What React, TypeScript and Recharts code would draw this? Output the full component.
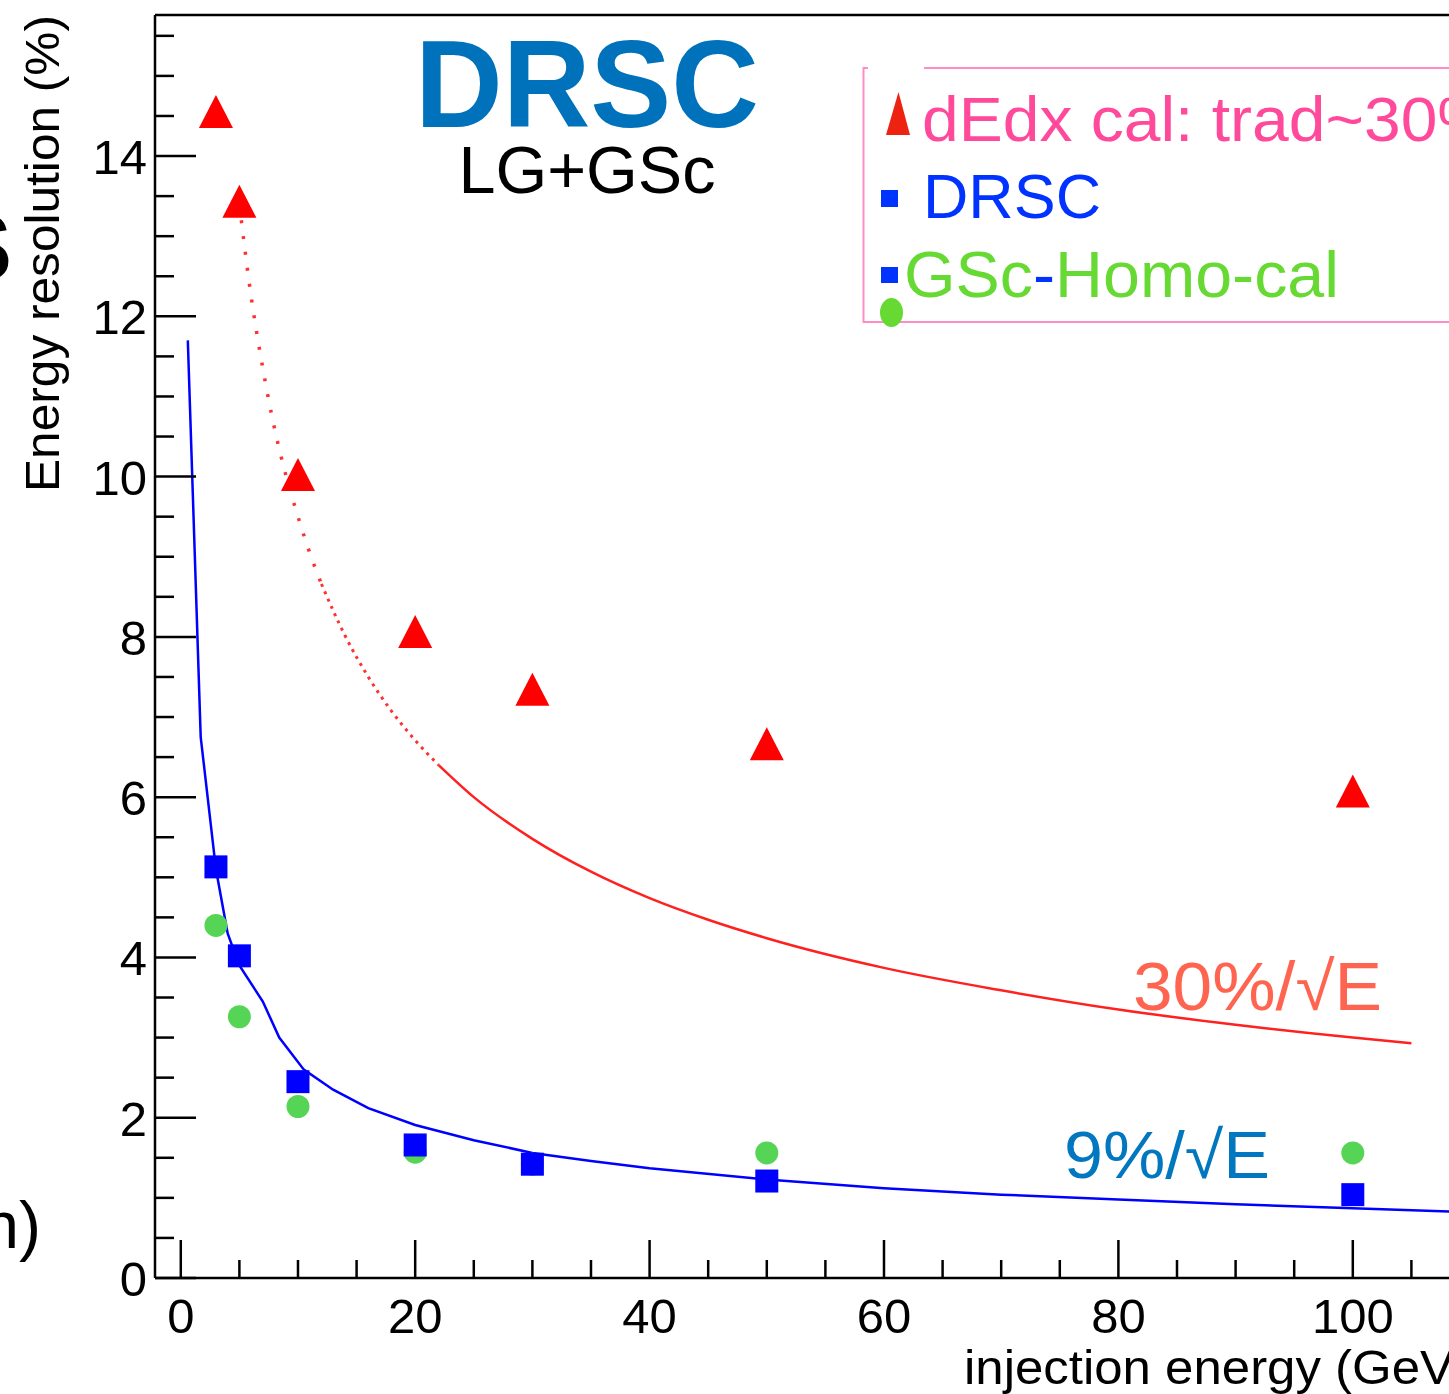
import React from "react";
import { ComposedChart, Line, Scatter, XAxis, YAxis, ReferenceLine } from "recharts";

// beam energies (GeV) and measured resolutions (%)
const energies = [3, 5, 10, 20, 30, 50, 100];
const tradResolution = [14.55, 13.43, 10.02, 8.06, 7.34, 6.66, 6.07];
const drscResolution = [5.13, 4.02, 2.45, 1.66, 1.42, 1.21, 1.04];
const homoResolution = [4.4, 3.26, 2.14, 1.57, 1.42, 1.56, 1.56];

// 9%/sqrt(E) curve
const fit9E = [0.6, 1.7, 3, 4, 5, 7, 8.4, 10.5, 13, 16, 20, 25, 30, 35, 40, 50, 60, 70, 80, 90, 100, 110];
const fit9R = [11.7, 6.75, 5.1, 4.3, 3.9, 3.45, 3.0, 2.6, 2.35, 2.12, 1.91, 1.72, 1.56, 1.46, 1.37, 1.23, 1.12, 1.04, 0.98, 0.92, 0.87, 0.82];

// 30%/sqrt(E) curve, drawn in three pieces (sparse dots, dense dots, solid)
const fit30SteepE = [5, 6, 7, 8, 9, 10, 11, 12];
const fit30SteepR = [13.4, 12.25, 11.35, 10.6, 10.0, 9.5, 9.05, 8.66];
const fit30MidE = [12, 14, 16, 18, 20, 22];
const fit30MidR = [8.66, 8.02, 7.5, 7.07, 6.71, 6.4];
const fit30TailE = [22, 25, 30, 35, 40, 45, 50, 60, 70, 80, 90, 100, 105];
const fit30TailR = [6.4, 6.0, 5.48, 5.07, 4.74, 4.47, 4.24, 3.87, 3.59, 3.35, 3.16, 3.0, 2.93];

const xTicks = [0, 5, 10, 15, 20, 25, 30, 35, 40, 45, 50, 55, 60, 65, 70, 75, 80, 85, 90, 95, 100, 105, 110];
const xLabels = [0, 20, 40, 60, 80, 100];
const yTicks = [0, 0.5, 1, 1.5, 2, 2.5, 3, 3.5, 4, 4.5, 5, 5.5, 6, 6.5, 7, 7.5, 8, 8.5, 9, 9.5, 10, 10.5, 11, 11.5, 12, 12.5, 13, 13.5, 14, 14.5, 15, 15.5];
const yLabels = [0, 2, 4, 6, 8, 10, 12, 14];

const X_MIN = -2.2;
const X_MAX = 110;
const Y_MAX = 15.76;

const FONT = '"Liberation Sans", Arial, Helvetica, sans-serif';

const pts = (xs: number[], ys: number[]) => xs.map((x, i) => ({ x, y: ys[i] }));

const XTick = (props: any) => {
  const { x, y, payload } = props;
  const major = xLabels.includes(payload.value);
  return (
    <g>
      <line x1={x} y1={y} x2={x} y2={y - (major ? 38 : 18)} stroke="#000" strokeWidth={2.5} />
      {major && (
        <text x={x} y={y + 55} textAnchor="middle" fontSize={49} fontFamily={FONT} fill="#000">
          {payload.value}
        </text>
      )}
    </g>
  );
};

const YTick = (props: any) => {
  const { x, y, payload } = props;
  const major = yLabels.includes(payload.value);
  return (
    <g>
      <line x1={x} y1={y} x2={x + (major ? 41 : 19)} y2={y} stroke="#000" strokeWidth={2.5} />
      {major && (
        <text x={x - 8} y={y + 18} textAnchor="end" fontSize={49} fontFamily={FONT} fill="#000">
          {payload.value}
        </text>
      )}
    </g>
  );
};

const Triangle = (p: any) => (
  <polygon points={`${p.cx - 17},${p.cy + 16} ${p.cx + 17},${p.cy + 16} ${p.cx},${p.cy - 17}`} fill="#FF0000" />
);
const Square = (p: any) => <rect x={p.cx - 11.5} y={p.cy - 11.5} width={23} height={23} fill="#0000FF" />;
const Dot = (p: any) => <circle cx={p.cx} cy={p.cy} r={11.5} fill="#55D455" />;

export default function App() {
  return (
    <div style={{ position: "fixed", left: 0, top: 0, width: 1449, height: 1394, overflow: "hidden", background: "#fff" }}>
      <div style={{ position: "absolute", left: 0, top: 0 }}>
        <ComposedChart width={1500} height={1394} margin={{ top: 15, right: 30, left: 0, bottom: 0 }}>
          <XAxis
            type="number"
            dataKey="x"
            domain={[X_MIN, X_MAX]}
            allowDataOverflow
            ticks={xTicks}
            interval={0}
            tickSize={0}
            tickMargin={0}
            tickLine={false}
            tick={<XTick />}
            height={116}
            axisLine={{ stroke: "#000", strokeWidth: 2.5 }}
          />
          <YAxis
            type="number"
            dataKey="y"
            domain={[0, Y_MAX]}
            allowDataOverflow
            ticks={yTicks}
            interval={0}
            tickSize={0}
            tickMargin={0}
            tickLine={false}
            tick={<YTick />}
            width={155}
            axisLine={{ stroke: "#000", strokeWidth: 2.5 }}
          />
          <ReferenceLine y={Y_MAX} stroke="#000" strokeWidth={2.5} />
          <Line data={pts(fit9E, fit9R)} dataKey="y" type="linear" stroke="#0000FF" strokeWidth={2.5} dot={false} isAnimationActive={false} />
          <Line data={pts(fit30SteepE, fit30SteepR)} dataKey="y" type="monotone" stroke="#FF3030" strokeWidth={3.5} strokeDasharray="3 13" dot={false} isAnimationActive={false} />
          <Line data={pts(fit30MidE, fit30MidR)} dataKey="y" type="monotone" stroke="#FF3030" strokeWidth={3} strokeDasharray="3 5" dot={false} isAnimationActive={false} />
          <Line data={pts(fit30TailE, fit30TailR)} dataKey="y" type="monotone" stroke="#FF2020" strokeWidth={2.5} dot={false} isAnimationActive={false} />
          <Scatter data={pts(energies, homoResolution)} dataKey="y" shape={Dot} isAnimationActive={false} />
          <Scatter data={pts(energies, drscResolution)} dataKey="y" shape={Square} isAnimationActive={false} />
          <Scatter data={pts(energies, tradResolution)} dataKey="y" shape={Triangle} isAnimationActive={false} />
        </ComposedChart>
      </div>
      <svg width={1449} height={1394} style={{ position: "absolute", left: 0, top: 0, pointerEvents: "none" }} fontFamily={FONT}>
        {/* cropped slide remnants on the left */}
        <text x={12} y={280} textAnchor="end" fontSize={95} fontWeight="bold" fill="#000">S</text>
        <text x={41} y={1248} textAnchor="end" fontSize={66} fill="#000">n)</text>

        <text transform="translate(58.5,492) rotate(-90)" fontSize={49} fill="#000" textLength={477} lengthAdjust="spacingAndGlyphs">
          Energy resolution (%)
        </text>
        <text x={964} y={1384} fontSize={48} fill="#000" textLength={507} lengthAdjust="spacingAndGlyphs">
          injection energy (GeV)
        </text>

        <text x={587} y={127} textAnchor="middle" fontSize={124} fontWeight="bold" fill="#0072BC" textLength={344} lengthAdjust="spacingAndGlyphs">
          DRSC
        </text>
        <text x={587} y={193} textAnchor="middle" fontSize={67} fill="#000" textLength={257} lengthAdjust="spacingAndGlyphs">
          LG+GSc
        </text>

        {/* legend box */}
        <path d="M863.5,67 L863.5,322 L1449,322 M863.5,68 L868,68 M924,68 L1449,68" stroke="#FF8CC6" strokeWidth={2} fill="none" />
        <polygon points="886,135 910,135 898.5,92" fill="#EE2211" />
        <text x={922} y={141} fontSize={63} fill="#FF4A9C" textLength={574} lengthAdjust="spacingAndGlyphs">
          dEdx cal: trad~30%
        </text>
        <rect x={881} y={190} width={17} height={17} fill="#0033FF" />
        <text x={923} y={218} fontSize={63} fill="#0033FF" textLength={178} lengthAdjust="spacingAndGlyphs">
          DRSC
        </text>
        <rect x={881} y={267} width={17} height={16} fill="#0033FF" />
        <text x={904} y={297} fontSize={65} fill="#66D933" textLength={435} lengthAdjust="spacingAndGlyphs">
          <tspan>GSc</tspan>
          <tspan fill="#0033FF">-</tspan>
          <tspan>Homo-cal</tspan>
        </text>
        <ellipse cx={891.5} cy={312.5} rx={11.5} ry={14.5} fill="#66D933" />

        {/* curve annotations */}
        <text x={1133} y={1010} fontSize={68} fill="#FF6450" textLength={249} lengthAdjust="spacingAndGlyphs">
          30%/√E
        </text>
        <text x={1064} y={1178} fontSize={66} fill="#0077BE" textLength={206} lengthAdjust="spacingAndGlyphs">
          9%/√E
        </text>
      </svg>
    </div>
  );
}
